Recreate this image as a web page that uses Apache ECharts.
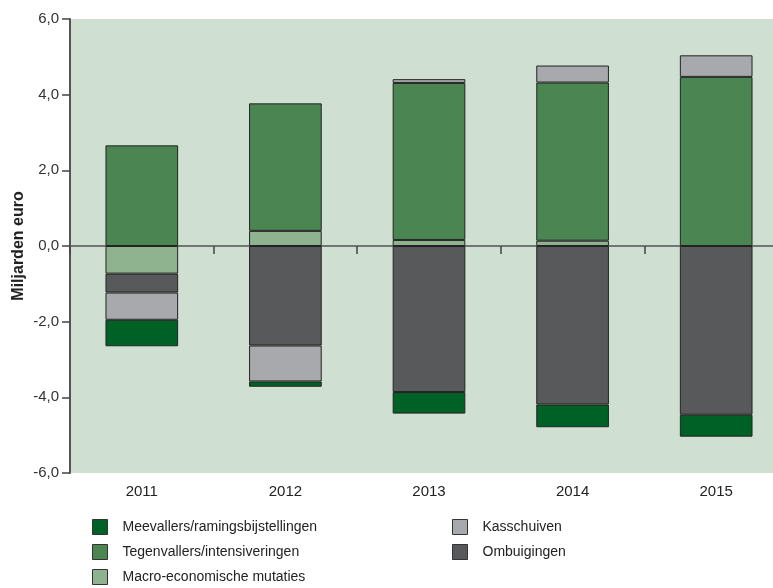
<!DOCTYPE html>
<html>
<head>
<meta charset="utf-8">
<script src="https://cdn.jsdelivr.net/npm/echarts@6/dist/echarts.min.js"></script>
<style>
  html, body { margin:0; padding:0; background:#fff; }
  #chart { width:773px; height:588px; }
</style>
</head>
<body>
<div id="chart"></div>
<script type="text/javascript">
var years = ['2011', '2012', '2013', '2014', '2015'];
// waarden in miljarden euro
var macro = [-0.73, 0.40, 0.16, 0.14, null];
var tegenvallers = [2.66, 3.37, 4.15, 4.18, 4.47];
var ombuigingen = [-0.50, -2.63, -3.86, -4.19, -4.46];
var kasschuiven = [-0.72, -0.95, 0.10, 0.45, 0.57];
var meevallers = [-0.70, -0.14, -0.57, -0.60, -0.58];
var yTicks = [-6, -4, -2, 0, 2, 4, 6];

var font = '"Liberation Sans", Arial, sans-serif';
var border = { borderColor: '#232323', borderWidth: 1 };

function bar(name, data, color) {
  return {
    name: name,
    type: 'bar',
    stack: 'totaal',
    data: data,
    barWidth: '50.6%',
    itemStyle: Object.assign({ color: color }, border)
  };
}

// een legenda per regel, twee kolommen zoals in de figuur
function legendItem(name, left, top) {
  return {
    left: left, top: top, padding: 0,
    icon: 'rect', itemWidth: 15, itemHeight: 15,
    itemStyle: { borderColor: '#333', borderWidth: 1 },
    textStyle: { fontSize: 14, color: '#222', fontFamily: font, padding: [0, 0, 0, 10] },
    data: [name]
  };
}

var myChart = echarts.init(document.getElementById('chart'));
var option = {
  animation: false,
  textStyle: { fontFamily: font },
  grid: {
    left: 70, right: -15, top: 19, bottom: 115,
    outerBoundsMode: 'none',
    show: true, backgroundColor: '#cfdfd1', borderWidth: 0
  },
  legend: [
    legendItem('Meevallers/ramingsbijstellingen', 92, 519),
    legendItem('Tegenvallers/intensiveringen', 92, 544),
    legendItem('Macro-economische mutaties', 92, 569),
    legendItem('Kasschuiven', 452, 519),
    legendItem('Ombuigingen', 452, 544)
  ],
  xAxis: [{
    type: 'category',
    data: years,
    position: 'bottom',
    axisLine: { show: false, onZero: false },
    axisTick: { show: false },
    axisLabel: { fontSize: 15, color: '#222', margin: 11 }
  }, {
    type: 'category',
    data: years,
    position: 'bottom',
    axisLine: { show: true, onZero: true, lineStyle: { color: '#555', width: 1.5 } },
    axisTick: { show: true, length: 8, lineStyle: { color: '#444', width: 1.5 } },
    axisLabel: { show: false }
  }],
  yAxis: {
    type: 'value',
    min: yTicks[0],
    max: yTicks[yTicks.length - 1],
    interval: 2,
    name: 'Miljarden euro',
    nameLocation: 'middle',
    nameRotate: 90,
    nameGap: 43,
    nameMoveOverlap: false,
    nameTextStyle: { fontSize: 16, fontWeight: 'bold', color: '#222', fontFamily: font },
    axisLine: { show: true, lineStyle: { color: '#555', width: 2 } },
    axisTick: { show: true, length: 8, lineStyle: { color: '#444', width: 1.5 } },
    splitLine: { show: false },
    axisLabel: {
      fontSize: 15, color: '#333', margin: 11,
      formatter: function (v) { return v.toFixed(1).replace('.', ','); }
    }
  },
  series: [
    bar('Macro-economische mutaties', macro, '#8fb38f'),
    bar('Tegenvallers/intensiveringen', tegenvallers, '#4a8552'),
    bar('Ombuigingen', ombuigingen, '#58595b'),
    bar('Kasschuiven', kasschuiven, '#a8a9ac'),
    bar('Meevallers/ramingsbijstellingen', meevallers, '#006127')
  ]
};
myChart.setOption(option);
</script>
</body>
</html>
